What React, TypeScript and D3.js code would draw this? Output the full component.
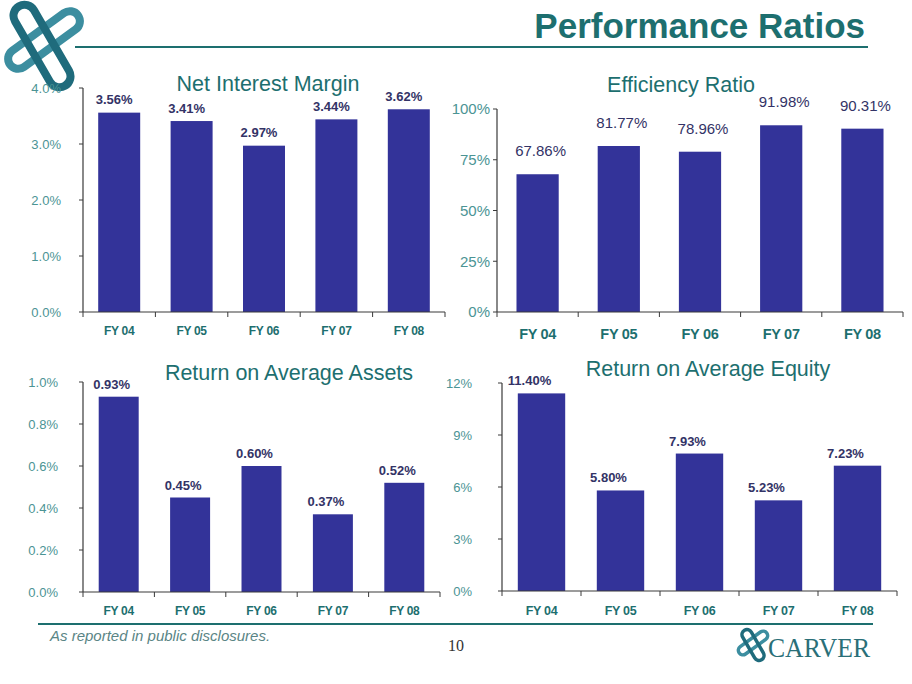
import React from "react";
import * as d3 from "d3";

const years = ["FY 04", "FY 05", "FY 06", "FY 07", "FY 08"];
const nimValues = [3.56, 3.41, 2.97, 3.44, 3.62];
const effValues = [67.86, 81.77, 78.96, 91.98, 90.31];
const roaValues = [0.93, 0.45, 0.6, 0.37, 0.52];
const roeValues = [11.4, 5.8, 7.93, 5.23, 7.23];
const nimTicks = [0, 1, 2, 3, 4];
const effTicks = [0, 25, 50, 75, 100];
const roaTicks = [0, 0.2, 0.4, 0.6, 0.8, 1.0];
const roeTicks = [0, 3, 6, 9, 12];

const BAR = "#333399";
const TEAL = "#1d6f6f";
const TICKTEAL = "#4b9494";
const LABEL = "#333366";
const AXIS = "#3a3a3a";
const SANS = "'Liberation Sans', Arial, Helvetica, sans-serif";
const NARROW = "'Liberation Sans Narrow', 'Arial Narrow', 'Liberation Sans', Arial, sans-serif";

type PanelProps = {
  title: string;
  titleX: number;
  titleY: number;
  values: number[];
  ticks: number[];
  yMax: number;
  x0: number;
  x1: number;
  y0: number;
  y1: number;
  pad: number;
  tickFmt: (v: number) => string;
  valFmt: (v: number) => string;
  tickSize: number;
  tickGap: number;
  catSize: number;
  catY: number;
  valSize: number;
  valWeight: string | number;
  valFont: string;
  valOffset: number;
  valDx: number;
};

function Panel(p: PanelProps) {
  const x = d3.scaleBand<string>().domain(years).range([p.x0, p.x1]).paddingInner(p.pad).paddingOuter(p.pad / 2);
  const y = d3.scaleLinear().domain([0, p.yMax]).range([p.y0, p.y1]);
  const step = x.step();
  const bounds = d3.range(years.length + 1).map((i) => p.x0 + i * step);
  return (
    <g>
      <text x={p.titleX} y={p.titleY} textAnchor="middle" fontFamily={SANS} fontSize={21.5} fill={TEAL}>
        {p.title}
      </text>
      {years.map((c, i) => (
        <rect key={c} x={x(c)} y={y(p.values[i])} width={x.bandwidth()} height={y(0) - y(p.values[i])} fill={BAR} />
      ))}
      {years.map((c, i) => (
        <text
          key={"v" + c}
          x={(x(c) as number) + x.bandwidth() / 2 + p.valDx}
          y={y(p.values[i]) - p.valOffset}
          textAnchor="middle"
          fontFamily={p.valFont}
          fontWeight={p.valWeight}
          fontSize={p.valSize}
          fill={LABEL}
        >
          {p.valFmt(p.values[i])}
        </text>
      ))}
      <line x1={p.x0} x2={p.x0} y1={y(p.yMax)} y2={y(0)} stroke={AXIS} strokeWidth={1.2} />
      <line x1={p.x0} x2={p.x1} y1={y(0)} y2={y(0)} stroke={AXIS} strokeWidth={1.2} />
      {p.ticks.map((t) => (
        <g key={"t" + t}>
          <line x1={p.x0 - 4} x2={p.x0} y1={y(t)} y2={y(t)} stroke={AXIS} strokeWidth={1} />
          <text
            x={p.x0 - p.tickGap}
            y={y(t)}
            dy="0.35em"
            textAnchor="end"
            fontFamily={SANS}
            fontSize={p.tickSize}
            fill={TICKTEAL}
          >
            {p.tickFmt(t)}
          </text>
        </g>
      ))}
      {bounds.map((bx, i) => (
        <line key={"b" + i} x1={bx} x2={bx} y1={y(0)} y2={y(0) + 5} stroke={AXIS} strokeWidth={1} />
      ))}
      {years.map((c) => (
        <text
          key={"c" + c}
          x={(x(c) as number) + x.bandwidth() / 2}
          y={p.catY}
          textAnchor="middle"
          fontFamily={SANS}
          fontWeight="bold"
          fontSize={p.catSize}
          fill={TEAL}
          letterSpacing={-0.3}
        >
          {c}
        </text>
      ))}
    </g>
  );
}

function Loop({ cx, cy, len, w, angle, color, sw }: any) {
  return (
    <rect
      x={cx - len / 2}
      y={cy - w / 2}
      width={len}
      height={w}
      rx={w / 2}
      ry={w / 2}
      fill="none"
      stroke={color}
      strokeWidth={sw}
      transform={`rotate(${angle} ${cx} ${cy})`}
    />
  );
}

export default function App() {
  const pct1 = (v: number) => d3.format(".1f")(v) + "%";
  const pct2 = (v: number) => d3.format(".2f")(v) + "%";
  const pct0 = (v: number) => d3.format("d")(v) + "%";
  return (
    <div style={{ position: "absolute", left: 0, top: 0 }}>
      <svg width={912} height={684} style={{ display: "block", background: "#fff" }}>
        {/* top-left logo */}
        <Loop cx={44} cy={40} len={84} w={20} angle={-36} color="#3c8ea0" sw={8} />
        <Loop cx={42} cy={46} len={92} w={22} angle={60} color="#1f6b7c" sw={8} />
        <text x={865} y={38} textAnchor="end" fontFamily={SANS} fontWeight="bold" fontSize={35} fill={TEAL}>
          Performance Ratios
        </text>
        <line x1={75} x2={868} y1={47} y2={47} stroke={TEAL} strokeWidth={2} />

        <Panel
          title="Net Interest Margin"
          titleX={268}
          titleY={91}
          values={nimValues}
          ticks={nimTicks}
          yMax={4}
          x0={83}
          x1={445}
          y0={312}
          y1={88}
          pad={0.42}
          tickFmt={pct1}
          valFmt={pct2}
          tickSize={13}
          tickGap={22}
          catSize={12}
          catY={335}
          valSize={13}
          valWeight="bold"
          valFont={SANS}
          valOffset={8.5}
          valDx={-5}
        />
        <Panel
          title="Efficiency Ratio"
          titleX={681}
          titleY={92}
          values={effValues}
          ticks={effTicks}
          yMax={100}
          x0={497}
          x1={903}
          y0={312}
          y1={109}
          pad={0.48}
          tickFmt={pct0}
          valFmt={pct2}
          tickSize={15}
          tickGap={7}
          catSize={14.5}
          catY={339}
          valSize={15}
          valWeight="normal"
          valFont={SANS}
          valOffset={18}
          valDx={3}
        />
        <Panel
          title="Return on Average Assets"
          titleX={289}
          titleY={380}
          values={roaValues}
          ticks={roaTicks}
          yMax={1.0}
          x0={83}
          x1={440}
          y0={592}
          y1={382}
          pad={0.44}
          tickFmt={pct1}
          valFmt={pct2}
          tickSize={13}
          tickGap={25}
          catSize={12}
          catY={615}
          valSize={13}
          valWeight="bold"
          valFont={NARROW}
          valOffset={8}
          valDx={-7}
        />
        <Panel
          title="Return on Average Equity"
          titleX={708}
          titleY={376}
          values={roeValues}
          ticks={roeTicks}
          yMax={12}
          x0={502}
          x1={897}
          y0={591}
          y1={383}
          pad={0.4}
          tickFmt={pct0}
          valFmt={pct2}
          tickSize={13}
          tickGap={30}
          catSize={12.5}
          catY={615}
          valSize={13}
          valWeight="bold"
          valFont={NARROW}
          valOffset={8}
          valDx={-12}
        />

        <line x1={38} x2={873} y1={624} y2={624} stroke={TEAL} strokeWidth={2} />
        <text x={50} y={641} fontFamily={SANS} fontStyle="italic" fontSize={15} fill="#5a8585">
          As reported in public disclosures.
        </text>
        <text x={456} y={651} textAnchor="middle" fontFamily="'Liberation Serif', 'Times New Roman', serif" fontSize={16} fill="#333">
          10
        </text>
        {/* CARVER logo */}
        <Loop cx={753} cy={643} len={34} w={9} angle={-36} color="#3c8ea0" sw={3.5} />
        <Loop cx={753} cy={645} len={34} w={10} angle={60} color="#1f6b7c" sw={3.5} />
        <text
          x={768}
          y={657}
          fontFamily="'Liberation Serif', 'Times New Roman', serif"
          fontSize={27}
          fill="#2a6f78"
          textLength={102}
          lengthAdjust="spacingAndGlyphs"
        >
          CARVER
        </text>
      </svg>
    </div>
  );
}
